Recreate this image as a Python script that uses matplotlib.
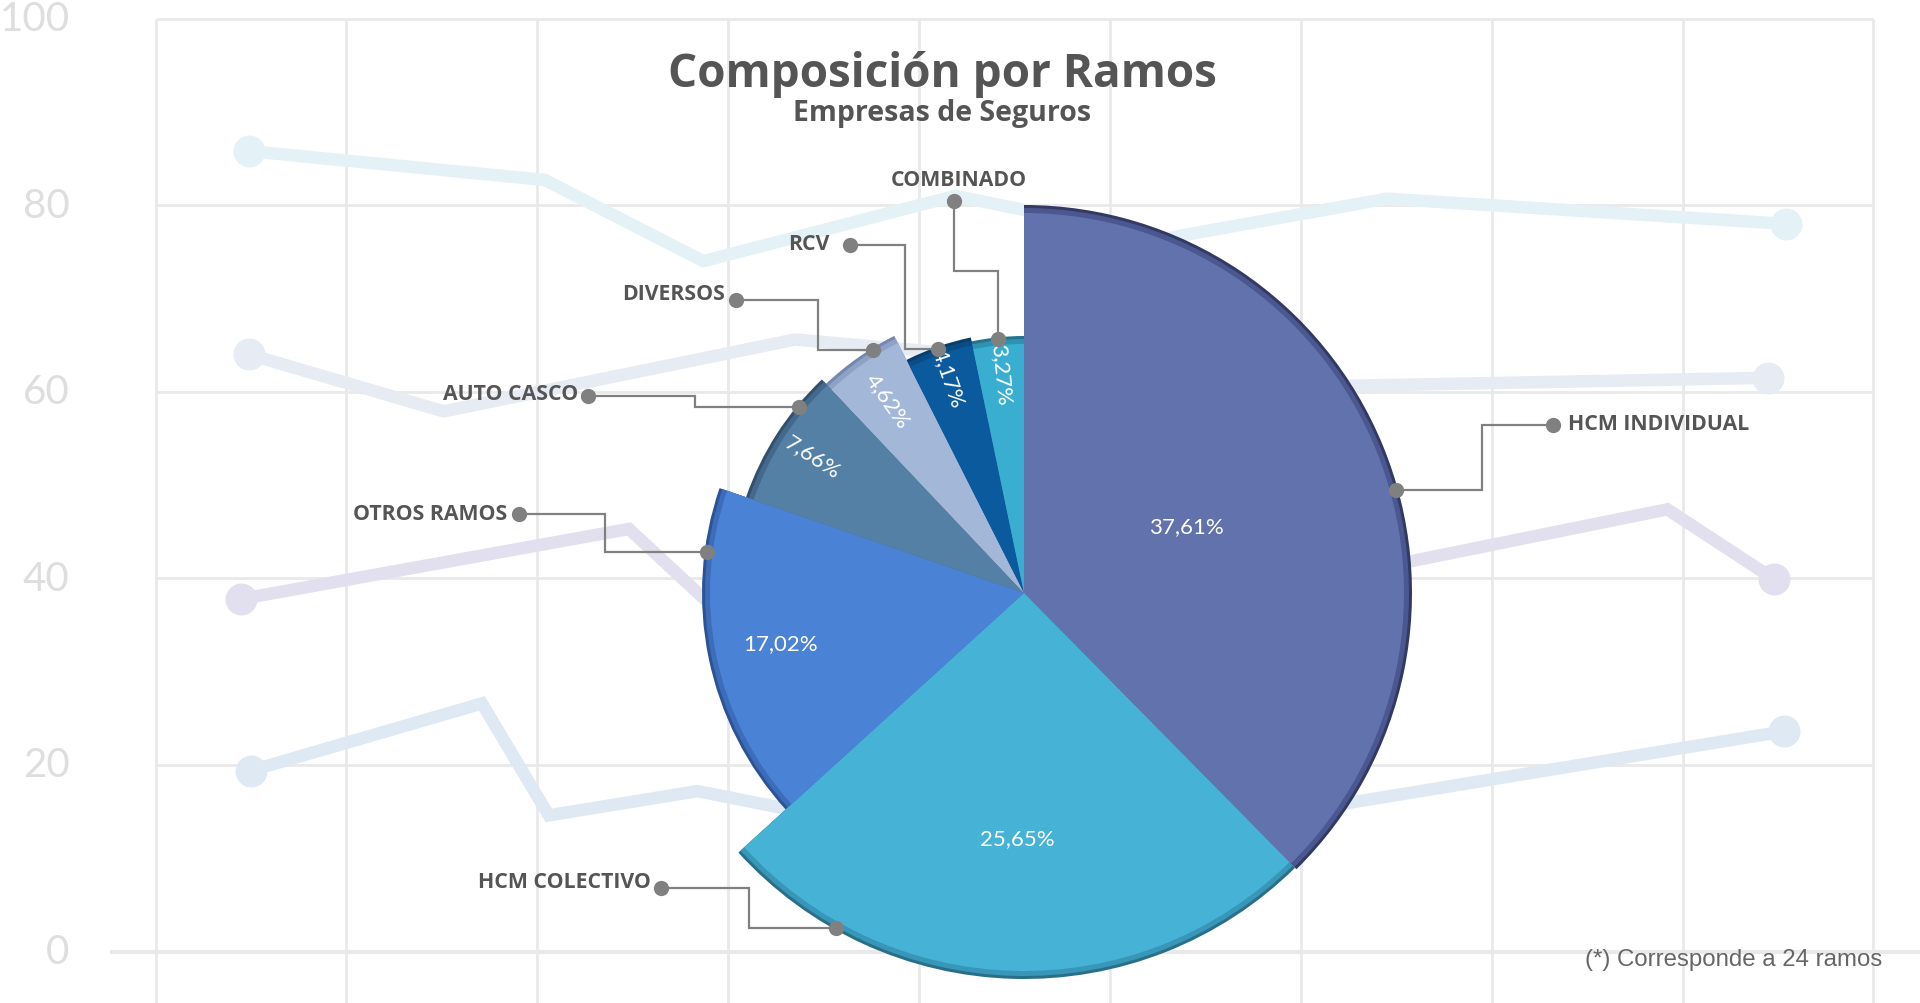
import numpy as np
import matplotlib
matplotlib.use("Agg")
import matplotlib.pyplot as plt

# ---------------- data ----------------
ramos = ["HCM INDIVIDUAL", "HCM COLECTIVO", "OTROS RAMOS", "AUTO CASCO",
         "DIVERSOS", "RCV", "COMBINADO"]
porcentajes = [37.61, 25.65, 17.02, 7.66, 4.62, 4.17, 3.27]
pct_labels = ["37,61%", "25,65%", "17,02%", "7,66%", "4,62%", "4,17%", "3,27%"]

# decorative background line chart
y_ticks = [0, 20, 40, 60, 80, 100]
bg_a_x = [0.49, 2.04, 2.87, 4.19, 5.28, 6.45, 8.54]
bg_a_y = [85.8, 82.7, 74.0, 81.0, 76.4, 80.7, 78.0]
bg_b_x = [0.49, 1.51, 3.35, 6.14, 8.45]
bg_b_y = [64.0, 57.9, 65.6, 60.6, 61.5]
bg_c_x = [0.45, 2.48, 2.87, 6.52, 7.92, 8.48]
bg_c_y = [37.8, 45.3, 37.9, 41.6, 47.4, 39.9]
bg_d_x = [0.50, 1.71, 2.06, 2.84, 4.60, 6.30, 8.53]
bg_d_y = [19.4, 26.6, 14.6, 17.2, 10.0, 16.1, 23.6]

# ---------------- style ----------------
W, H = 1920, 1004
wedge_colors = ["#6272ac", "#46b2d6", "#4a82d5", "#5580a6", "#a3b7d8", "#0b5a9e", "#3aaed0"]
rim_colors = ["#323a62", "#2a6f88", "#2c5494", "#33506c", "#7488ad", "#083d6c", "#23738e"]
mid_colors = ["#4b5790", "#3896b8", "#3c6dba", "#44698c", "#8ea2c7", "#0a4c86", "#2e93b2"]
radii = [388, 386, 322, 294, 288, 261, 257]
bg_colors = ["#e4f2f8", "#e7ebf3", "#e2e0ef", "#dfe9f4"]
grid_c = "#e9e9e9"
txt_c = "#555555"
line_c = "#808080"

fig = plt.figure(figsize=(W / 100, H / 100), dpi=100)
fig.patch.set_facecolor("white")

# ---------------- background line chart ----------------
axb = fig.add_axes([0, 0, 1, 1])
px_x = 155.89 / 1568 * W   # px per x unit (full res)
x0 = 127 / 1568 * W
axb.set_xlim(-x0 / px_x, (W - x0) / px_x)
y0_frac = (820 - 778) / 820
ytop_frac = (820 - 16) / 820
unit = (ytop_frac - y0_frac) / 100
axb.set_ylim(-y0_frac / unit, 100 + (1 - ytop_frac) / unit)
axb.axis("off")

for v in y_ticks[1:]:
    axb.plot([0, 9], [v, v], color=grid_c, lw=2.0, zorder=1, solid_capstyle="butt")
axb.plot([-0.237, 9.3], [0, 0], color=grid_c, lw=3.0, zorder=1, solid_capstyle="butt")
for xv in range(10):
    axb.plot([xv, xv], [-10, 100], color=grid_c, lw=2.0, zorder=1, solid_capstyle="butt")
for v in y_ticks:
    axb.text(-0.45, v, str(v), ha="right", va="center", fontsize=29,
             color="#dedede", family=["Lato", "DejaVu Sans"])

for xs, ys, c in [(bg_a_x, bg_a_y, bg_colors[0]), (bg_b_x, bg_b_y, bg_colors[1]),
                  (bg_c_x, bg_c_y, bg_colors[2]), (bg_d_x, bg_d_y, bg_colors[3])]:
    axb.plot(xs, ys, color=c, lw=9, zorder=2, solid_joinstyle="miter",
             marker="o", markevery=[0, len(xs) - 1], markersize=22)

# ---------------- pie (pixel coordinates, y up) ----------------
axp = fig.add_axes([0, 0, 1, 1])
axp.patch.set_alpha(0)
cx, cy = 1024, H - 594

layers = []
for cols, dr in [(rim_colors, 0), (mid_colors, 3), (wedge_colors, 8)]:
    ws, _ = axp.pie(porcentajes, colors=cols, startangle=90, counterclock=False,
                    center=(cx, cy), radius=1, wedgeprops=dict(linewidth=0))
    for w, r in zip(ws, radii):
        w.set_radius(r - dr)
    layers.append(ws)
main = layers[-1]
axp.set_xlim(0, W)
axp.set_ylim(0, H)
axp.set_aspect("auto")
axp.axis("off")

# percentage labels inside the wedges
label_dist = [175, 245, 249, 252, 236, 229, 220]
for i, w in enumerate(main):
    mid = np.deg2rad((w.theta1 + w.theta2) / 2)
    tx = cx + label_dist[i] * np.cos(mid)
    ty = cy + label_dist[i] * np.sin(mid)
    rot = 0 if porcentajes[i] > 10 else np.rad2deg(mid) - 180
    axp.text(tx, ty, pct_labels[i], color="white", ha="center", va="center",
             rotation=rot, rotation_mode="anchor", fontsize=16,
             family=["Lato", "DejaVu Sans"], zorder=5)

# ---------------- category labels with elbow leader lines ----------------
# (label anchor x, y [px from top], ha, label-dot x, y, elbow x, fraction along wedge)
lab_pos = {
    "HCM INDIVIDUAL": (1568, 425, "left", 1553, 426, 1482, 0.55),
    "HCM COLECTIVO": (651, 883, "right", 661, 889, 749, 0.80),
    "OTROS RAMOS": (507, 515, "right", 519, 515, 605, 0.81),
    "AUTO CASCO": (578, 395, "right", 588, 397, 695, 0.75),
    "DIVERSOS": (725, 295, "right", 736, 301, 818, 0.70),
    "RCV": (830, 244, "right", 850, 246, 905, 0.50),
    "COMBINADO": (959, 181, "center", 954, 202, None, 0.50),
}
for i, name in enumerate(ramos):
    lx, ly, ha, dx, dy, ex, f = lab_pos[name]
    w = main[i]
    ang = np.deg2rad(w.theta2 - f * (w.theta2 - w.theta1))
    r = radii[i] - 2
    tx = cx + r * np.cos(ang)
    ty = cy + r * np.sin(ang)
    dyu = H - dy
    if ex is None:
        midy = H - 272
        xs = [dx, dx, tx, tx]
        ys = [dyu, midy, midy, ty]
    else:
        xs = [dx, ex, ex, tx]
        ys = [dyu, dyu, ty, ty]
    axp.plot(xs, ys, color=line_c, lw=1.6, zorder=6, solid_joinstyle="miter")
    axp.plot([dx, tx], [dyu, ty], "o", color=line_c, ms=11, zorder=7, mec="none")
    axp.text(lx, H - ly, name, ha=ha, va="center", fontsize=15.3, color=txt_c,
             family=["Open Sans", "DejaVu Sans"], weight="bold", zorder=7)

# ---------------- titles and note ----------------
axp.text(942, H - 74, "Composición por Ramos", ha="center", va="center", fontsize=33,
         color=txt_c, family=["Open Sans", "DejaVu Sans"], weight="bold", zorder=8)
axp.text(942, H - 114, "Empresas de Seguros", ha="center", va="center", fontsize=20.5,
         color=txt_c, family=["Open Sans", "DejaVu Sans"], weight="bold", zorder=8)
axp.text(1882, H - 960, "(*) Corresponde a 24 ramos", ha="right", va="center", fontsize=17.3,
         color="#666666", family=["Liberation Sans", "DejaVu Sans"], zorder=8)

fig.savefig("out.png", dpi=100, facecolor="white")
